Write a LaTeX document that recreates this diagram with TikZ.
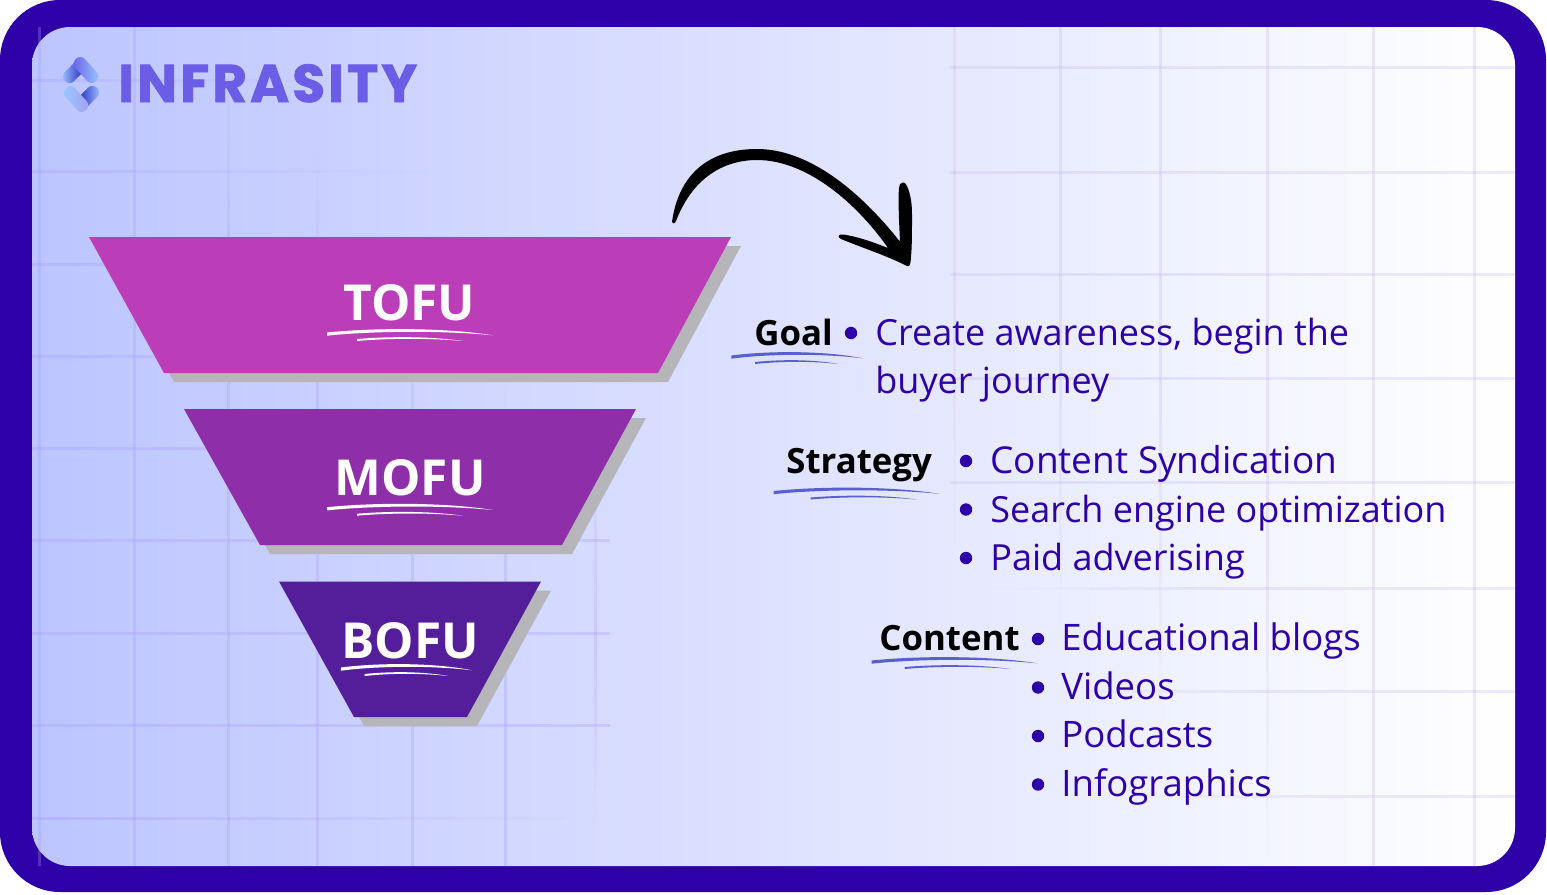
\documentclass[tikz,border=0pt]{standalone}
\usepackage{fontspec}
\setmainfont{Open Sans}
\newfontfamily\logofont[BoldFeatures={FakeBold=1.6,LetterSpace=6}]{Poppins}
\definecolor{edgeblue}{HTML}{2E00A8}
\definecolor{logoblue}{HTML}{6B5DE6}
\definecolor{markblue}{HTML}{5A5FCE}
\definecolor{shadowgrey}{HTML}{B6B5BA}
\definecolor{tofucol}{HTML}{BC3DB8}
\definecolor{mofucol}{HTML}{8E2EA8}
\definecolor{bofucol}{HTML}{541E9B}
\definecolor{gridlcol}{HTML}{A99BFF}
\definecolor{gridrcol}{HTML}{C9B8F5}
% x, y, scale, colour, shift of the lower stroke
\newcommand{\scribble}[5]{
  \begin{scope}[shift={(#1,#2)}, xscale=#3]
    \fill[#4] (-83,-1.5) .. controls (-35,-6.4) and (35,-6.4) .. (83,1.3)
      .. controls (35,-3.4) and (-35,-3.4) .. (-83,1.7) -- cycle;
    \fill[#4] (-53+#5,5) .. controls (-20+#5,2.3) and (20+#5,2.3) .. (53+#5,7)
      .. controls (20+#5,4.1) and (-20+#5,4.1) .. (-53+#5,7) -- cycle;
  \end{scope}
}
% colour, top left, top right, bottom right, bottom left, top y, bottom y
\newcommand{\funnel}[7]{
  \fill[shadowgrey, shift={(10,9)}] (#2,#6) -- (#3,#6) -- (#4,#7) -- (#5,#7) -- cycle;
  \fill[#1] (#2,#6) -- (#3,#6) -- (#4,#7) -- (#5,#7) -- cycle;
}
% grid line that dies away from (x0,y0) to (x1,y1)
\newcommand{\fadeline}[6]{
  \foreach \i in {0,...,15} {
    \pgfmathsetmacro{\ga}{#6*(1-(\i+0.5)/16)}
    \draw[#5, draw opacity=\ga] ({(#1)+((#3)-(#1))*\i/16},{(#2)+((#4)-(#2))*\i/16})
      -- ({(#1)+((#3)-(#1))*(\i+1)/16},{(#2)+((#4)-(#2))*(\i+1)/16});
  }
}
\begin{document}
\begin{tikzpicture}[x=0.5pt, y=-0.5pt,
    stage/.style={text=white, font=\fontsize{24.8}{24.8}\selectfont\bfseries, inner sep=0, anchor=base},
    head/.style={text=black, font=\fontsize{17.4}{17.4}\selectfont\bfseries, inner sep=0, anchor=base west},
    item/.style={text=edgeblue, font=\fontsize{#1}{#1}\selectfont, inner sep=0, anchor=base west},
    item/.default=18,
    dotmark/.style={circle, fill=edgeblue, minimum size=6.2pt, inner sep=0},
    gridleft/.style={gridlcol, line width=1.5pt},
    gridright/.style={gridrcol, line width=1.5pt}]

  \useasboundingbox (0,0) rectangle (1547,894);
  \fill[white] (0,0) rectangle (1547,894);
  \fill[edgeblue, rounded corners=30pt] (0,0) rectangle (1546,892);
  \shade[left color={rgb,255:red,188;green,197;blue,255}, right color=white, rounded corners=19pt]
    (32,27) rectangle (1515,866);

  % left grid
  \foreach \gy/\gend in {80/340, 171/430} {
    \fadeline{32}{\gy}{\gend}{\gy}{gridleft}{0.3}
  }
  \foreach \gy in {264, 356, 448, 540, 633, 725} {
    \draw[gridleft, draw opacity=0.3] (32,\gy) -- (610,\gy);
  }
  \fadeline{32}{818}{600}{818}{gridleft}{0.4}
  \foreach \gx in {39, 134} {
    \draw[gridleft, draw opacity=0.3] (\gx,27) -- (\gx,866);
  }
  \foreach \gx/\gstart in {228/60, 317/150, 412/260, 505/380} {
    \fadeline{\gx}{\gstart+200}{\gx}{\gstart}{gridleft}{0.3}
    \draw[gridleft, draw opacity=0.3] (\gx,\gstart+200) -- (\gx,866);
  }
  \fadeline{595}{640}{595}{430}{gridleft}{0.3}
  \fadeline{595}{640}{595}{810}{gridleft}{0.3}

  % right grid
  \foreach \gy in {67, 172, 274, 378, 482} {
    \draw[gridright, draw opacity=0.3] (950,\gy) -- (1515,\gy);
  }
  \foreach \gy/\gstart in {588/990, 691/1060, 796/1130} {
    \fadeline{\gstart+200}{\gy}{\gstart}{\gy}{gridright}{0.3}
    \draw[gridright, draw opacity=0.3] (\gstart+200,\gy) -- (1515,\gy);
  }
  \foreach \gx/\gmid/\gend in {954/280/560, 1060/360/640, 1160/420/720, 1267/560/860} {
    \draw[gridright, draw opacity=0.3] (\gx,27) -- (\gx,\gmid);
    \fadeline{\gx}{\gmid}{\gx}{\gend}{gridright}{0.3}
  }
  \foreach \gx in {1373, 1474} {
    \draw[gridright, draw opacity=0.3] (\gx,27) -- (\gx,866);
  }

  % logo
  \begin{scope}[rounded corners=3.2pt]
    \shade[shading angle=45, left color=cyan!40!blue!35, right color=blue!70!black]
      (69.5,85.7) -- (60.3,76.5) -- (80.5,56.3) -- (89.7,65.5) -- cycle;
    \shade[shading angle=135, left color=logoblue, right color=cyan!50!blue!40]
      (80.5,54.3) -- (71.3,63.5) -- (91.5,85.7) -- (100.7,76.5) -- cycle;
    \shade[shading angle=45, left color=blue!70!black, right color=cyan!40!blue!35]
      (92.5,83.3) -- (101.7,92.5) -- (81.5,112.7) -- (72.3,103.5) -- cycle;
    \shade[shading angle=135, left color=cyan!50!blue!40, right color=logoblue!60]
      (70.5,83.3) -- (61.3,92.5) -- (81.5,114.7) -- (90.7,105.5) -- cycle;
  \end{scope}
  \node[inner sep=0, anchor=base west, text=logoblue] (brand) at (118,102)
    {\logofont\fontsize{26.5}{26.5}\selectfont\bfseries INFRASITY};

  % funnel
  \funnel{tofucol}{89}{731}{658}{164}{237}{373}
  \funnel{mofucol}{184}{636}{562}{260}{409}{545}
  \funnel{bofucol}{279}{541}{467}{354}{581.5}{717}
  \node[stage] (tofu) at (409.5,320) {TOFU};
  \node[stage] (mofu) at (410,495.5) {MOFU};
  \node[stage] (bofu) at (410,658) {BOFU};
  \scribble{410}{334}{1}{white}{0}
  \scribble{410}{508.7}{1}{white}{0}
  \scribble{406.5}{669}{0.79}{white}{0}

  % arrow
  \fill[black] (672,222) .. controls (678,178) and (705,149) .. (757,149)
    .. controls (805,149) and (855,185) .. (900,241.7)
    .. controls (899,220) and (898,200) .. (899,188)
    .. controls (899,182) and (905,180) .. (907,186)
    .. controls (911,195) and (912,205) .. (912,215)
    .. controls (912,235) and (912,250) .. (910.5,262)
    .. controls (910,266) and (909,267) .. (906,265.5)
    .. controls (885,255) and (860,247) .. (841,239)
    .. controls (837,237) and (838,234) .. (843,234.5)
    .. controls (860,237) and (875,243) .. (888,248)
    .. controls (858,205) and (808,160) .. (757,160)
    .. controls (730,160) and (695,172) .. (676,221)
    .. controls (675,224) and (672,224) .. (672,222) -- cycle;

  % goal
  \node[head] (goal) at (754,345) {Goal};
  \scribble{797}{357}{0.79}{markblue}{0}
  \node[dotmark] (goaldot) at (851,333) {};
  \node[item] (goala) at (875,345) {Create awareness, begin the};
  \node[item] (goalb) at (875,393.5) {buyer journey};

  % strategy
  \node[head] (strategy) at (786,473) {Strategy};
  \scribble{856.5}{492.5}{1}{markblue}{7}
  \foreach \nm/\ty/\fs/\txt in {stra/473.5/18.5/Content Syndication, strb/522/18/Search engine optimization, strc/570.5/18/Paid adverising} {
    \node[dotmark] (\nm dot) at (966,\ty-12.5) {};
    \node[item=\fs] (\nm) at (990,\ty) {\txt};
  }

  % content
  \node[head] (content) at (879,650.5) {Content};
  \scribble{954.5}{662}{1}{markblue}{3}
  \foreach \nm/\ty/\txt in {cona/650.5/Educational blogs, conb/699/Videos, conc/747.5/Podcasts, cond/796/Infographics} {
    \node[dotmark] (\nm dot) at (1038,\ty-11.5) {};
    \node[item=18.25] (\nm) at (1061,\ty) {\txt};
  }
\end{tikzpicture}
\end{document}
